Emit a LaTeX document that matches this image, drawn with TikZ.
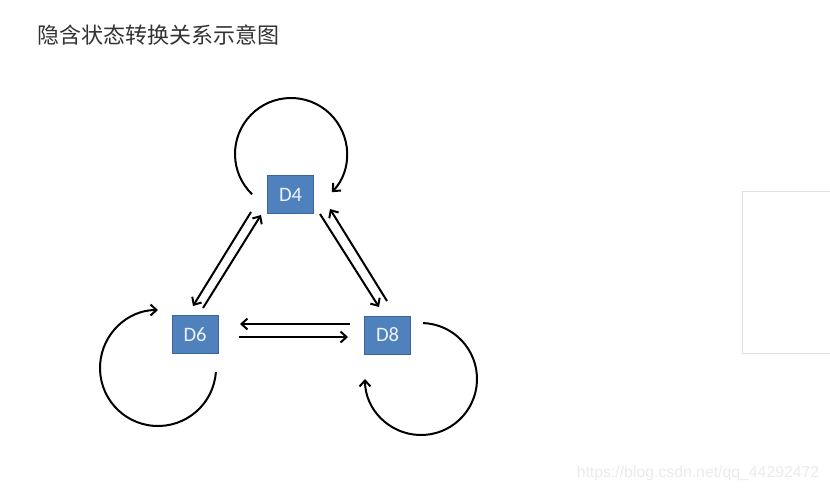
\documentclass[tikz,border=0pt]{standalone}
\usepackage{fontspec}
\newfontfamily\cjk{Noto Sans CJK SC}
\newfontfamily\calib{Carlito}
\newfontfamily\arial{Liberation Sans}
\usetikzlibrary{arrows.meta}
\definecolor{boxfill}{HTML}{4F81BD}
\definecolor{boxline}{HTML}{3A659A}
\definecolor{boxtext}{HTML}{EEF2F8}
\tikzset{
  state/.style={draw=boxline, line width=0.8pt, fill=boxfill, text=boxtext,
    minimum width=46pt, minimum height=38pt, inner sep=0pt,
    font=\calib\fontsize{20.5}{20.5}\selectfont},
  arr/.style={draw=black, line width=2pt, -{Straight Barb[length=6pt,width=11pt,line width=2pt]}},
}
\begin{document}
\begin{tikzpicture}[x=1pt,y=-1pt]
\useasboundingbox (0,0) rectangle (830,493);
\fill[white] (0,0) rectangle (830,493);
\node[text=black!80, font=\cjk\fontsize{22}{22}\selectfont, anchor=west] (title) at (34,35) {隐含状态转换关系示意图};
\node[text=black!8, font=\arial\fontsize{15.8}{15.8}\selectfont] (wm) at (698,473) {https://blog.csdn.net/qq\_44292472};
\draw[black!12, line width=1pt] (850,191) -- (742,191) -- (742,353) -- (850,353);

\node[state] (d4) at (290.5,194.5) {D4};
\node[state] (d6) at (195,334.5) {D6};
\node[state] (d8) at (387.5,335) {D8};

% D4 <-> D6
\draw[arr] ([shift={(-39.5,17.5)}]d4.center) -- ([shift={(-2,-28.5)}]d6.center);
\draw[arr] ([shift={(8,-26.5)}]d6.center) -- ([shift={(-29.5,20.5)}]d4.center);
% D4 <-> D8
\draw[arr] ([shift={(29.5,19.5)}]d4.center) -- ([shift={(-8.5,-28)}]d8.center);
\draw[arr] ([shift={(-0.5,-34)}]d8.center) -- ([shift={(39.5,14.5)}]d4.center);
% D6 <-> D8
\draw[arr] ([shift={(-37.5,-11)}]d8.center) -- ([shift={(45,-10.5)}]d6.center);
\draw[arr] ([shift={(44,2.5)}]d6.center) -- ([shift={(-39.5,2)}]d8.center);

% self loops
\draw[arr] ([shift={(0.5,-40.5)},shift={(134:56)}]d4.center) arc[start angle=134,end angle=403,radius=56];
\draw[arr] ([shift={(-37,33.5)},shift={(4:58)}]d6.center) arc[start angle=4,end angle=270,radius=58];
\draw[arr] ([shift={(33.5,44)},shift={(272:56)}]d8.center) arc[start angle=272,end angle=540,radius=56];
\end{tikzpicture}
\end{document}
